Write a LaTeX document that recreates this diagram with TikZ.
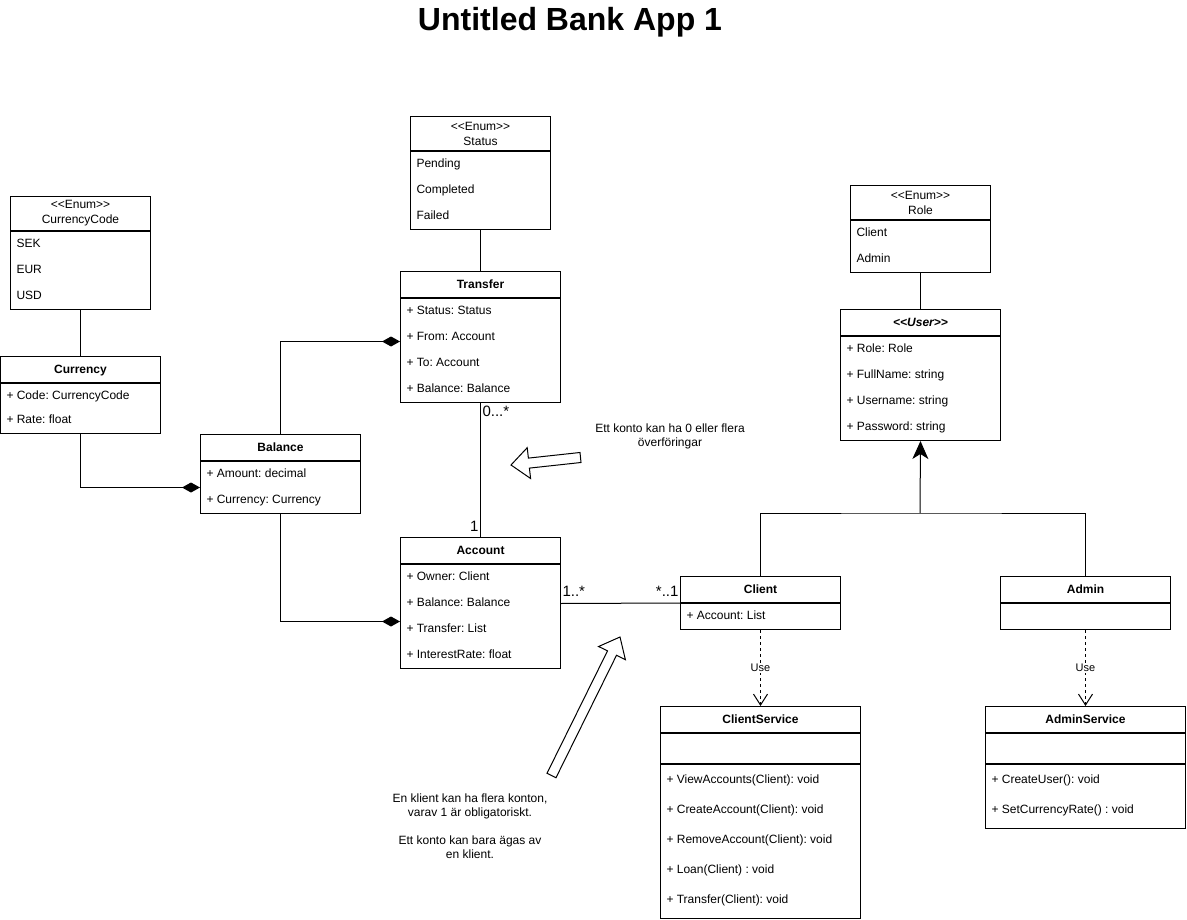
\documentclass[tikz,border=0pt]{standalone}
\usepackage{fontspec}
\setmainfont{Liberation Sans}[Ligatures=TeXOff]
\usetikzlibrary{arrows.meta}
\frenchspacing

\newcommand{\txt}{\fontsize{12}{14}\selectfont}

\begin{document}
\begin{tikzpicture}[x=1pt, y=-1pt, line width=1pt,
	head/.style={draw, anchor=north west, inner sep=0pt, text height=8.6pt, text depth=0pt, font=\txt\bfseries},
	enumhead/.style={draw, anchor=north west, inner sep=0pt, align=center, font=\fontsize{12}{15}\selectfont},
	body/.style={draw, anchor=north west, inner sep=0pt},
	item/.style={anchor=west, inner sep=0pt, font=\txt, text height=8.6pt, text depth=0pt},
	comp/.style={-{Diamond[length=18pt,width=10pt]}},
	inherit/.style={-{Stealth[length=18pt,width=16pt,inset=5pt]}},
	use/.style={dash pattern=on 3pt off 3pt, -{Straight Barb[length=11pt,width=14pt]}},
	uselabel/.style={fill=white, inner sep=1pt, font=\fontsize{11}{13}\selectfont},
	mult/.style={inner sep=0pt, font=\fontsize{15}{18}\selectfont},
	note/.style={inner sep=0pt, align=center, font=\txt}]

	\useasboundingbox (0,0) rectangle (1187,920);

	% title
	\node[font=\bfseries\fontsize{32}{38}\selectfont, anchor=base] (title) at (570,31) {Untitled Bank App 1};

	% enums
	\node[enumhead, minimum width=140, minimum height=34] (currencycode) at (10,196) {<<Enum>>\\CurrencyCode};
	\node[body, minimum width=140, minimum height=78] (currencycodeb) at (currencycode.south west) {};
	\foreach \t [count=\i] in {SEK, EUR, USD}
		\node[item] (currencycode-\i) at (16,217+26*\i) {\t};

	\node[enumhead, minimum width=140, minimum height=34] (status) at (410,116) {<<Enum>>\\Status};
	\node[body, minimum width=140, minimum height=78] (statusb) at (status.south west) {};
	\foreach \t [count=\i] in {Pending, Completed, Failed}
		\node[item] (status-\i) at (416,137+26*\i) {\t};

	\node[enumhead, minimum width=140, minimum height=34] (role) at (850,185) {<<Enum>>\\Role};
	\node[body, minimum width=140, minimum height=52] (roleb) at (role.south west) {};
	\foreach \t [count=\i] in {Client, Admin}
		\node[item] (role-\i) at (856,206+26*\i) {\t};

	% classes
	\node[head, minimum width=160, minimum height=26] (currency) at (0,356) {Currency};
	\node[body, minimum width=160, minimum height=50] (currencyb) at (currency.south west) {};
	\node[item] (currency-1) at (6,395) {+ Code: CurrencyCode};
	\node[item] (currency-2) at (6,419) {+ Rate: float};

	\node[head, minimum width=160, minimum height=26] (balance) at (200,434) {Balance};
	\node[body, minimum width=160, minimum height=52] (balanceb) at (balance.south west) {};
	\foreach \t [count=\i] in {{+ Amount: decimal}, {+ Currency: Currency}}
		\node[item] (balance-\i) at (206,447+26*\i) {\t};

	\node[head, minimum width=160, minimum height=26] (transfer) at (400,271) {Transfer};
	\node[body, minimum width=160, minimum height=104] (transferb) at (transfer.south west) {};
	\foreach \t [count=\i] in {{+ Status: Status}, {+ From: Account}, {+ To: Account}, {+ Balance: Balance}}
		\node[item] (transfer-\i) at (406,284+26*\i) {\t};

	\node[head, minimum width=160, minimum height=26] (account) at (400,537) {Account};
	\node[body, minimum width=160, minimum height=104] (accountb) at (account.south west) {};
	\foreach \t [count=\i] in {{+ Owner: Client}, {+ Balance: Balance}, {+ Transfer: List}, {+ InterestRate: float}}
		\node[item] (account-\i) at (406,550+26*\i) {\t};

	\node[head, minimum width=160, minimum height=26, font=\txt\bfseries\itshape] (user) at (840,309) {<<User>>};
	\node[body, minimum width=160, minimum height=104] (userb) at (user.south west) {};
	\foreach \t [count=\i] in {{+ Role: Role}, {+ FullName: string}, {+ Username: string}, {+ Password: string}}
		\node[item] (user-\i) at (846,322+26*\i) {\t};

	\node[head, minimum width=160, minimum height=26] (client) at (680,576) {Client};
	\node[body, minimum width=160, minimum height=26] (clientb) at (client.south west) {};
	\node[item] (client-1) at (686,615) {+ Account: List};

	\node[head, minimum width=170, minimum height=26] (admin) at (1000,576) {Admin};
	\node[body, minimum width=170, minimum height=26] (adminb) at (admin.south west) {};

	% services
	\node[head, minimum width=200, minimum height=26] (clientservice) at (660,706) {ClientService};
	\node[body, minimum width=200, minimum height=30] (clientserviceb) at (clientservice.south west) {};
	\node[body, minimum width=200, minimum height=154] (clientservicem) at (clientserviceb.south west) {};
	\foreach \t [count=\i] in {{+ ViewAccounts(Client): void}, {+ CreateAccount(Client): void}, {+ RemoveAccount(Client): void}, {+ Loan(Client) : void}, {+ Transfer(Client): void}}
		\node[item] (clientservice-\i) at (666,749+30*\i) {\t};

	\node[head, minimum width=200, minimum height=26] (adminservice) at (985,706) {AdminService};
	\node[body, minimum width=200, minimum height=30] (adminserviceb) at (adminservice.south west) {};
	\node[body, minimum width=200, minimum height=64] (adminservicem) at (adminserviceb.south west) {};
	\node[item] (adminservice-1) at (991,779) {+ CreateUser(): void};
	\node[item] (adminservice-2) at (991,809) {+ SetCurrencyRate() : void};

	% connectors
	\draw (currencycodeb.south) -- (currency.north);
	\draw (statusb.south) -- (transfer.north);
	\draw (roleb.south) -- (user.north);
	\draw[comp] (currencyb.south) |- (balanceb.west);
	\draw[comp] (balance.north) |- ([yshift=9pt]transferb.west);
	\draw[comp] (balanceb.south) |- ([yshift=-5pt]accountb.west);
	\draw (transferb.south) -- (account.north);
	\draw ([yshift=13pt]accountb.east) -- (clientb.north west);

	\coordinate (join) at (920,513);
	\draw (client.north) |- (join) -| (admin.north);
	\draw[inherit] (join) -- (userb.south);

	\draw[use] (clientb.south) -- node[uselabel] (use-1) {Use} (clientservice.north);
	\draw[use] (adminb.south) -- node[uselabel] (use-2) {Use} (adminservice.north);

	% multiplicities
	\node[mult, anchor=west] (m-transfer) at (482,411) {0...*};
	\node[mult, anchor=east] (m-account) at (479,526) {1};
	\node[mult, anchor=west] (m-accounts) at (562,591) {1..*};
	\node[mult, anchor=east] (m-client) at (679,591) {*..1};

	% notes
	\node[note] (note-transfer) at (670,436) {Ett konto kan ha 0 eller flera\\överföringar};
	\node[note] (note-client) at (470,826) {En klient kan ha flera konton,\\varav 1 är obligatoriskt.\\[14pt]Ett konto kan bara ägas av\\en klient.};

	\draw (580.0,452.5) -- (528.4,458.1) -- (527.2,447.7) -- (511,465) -- (530.6,478.5) -- (529.4,468.1) -- (581.0,462.5) -- cycle;
	\draw (547.0,773.3) -- (607.5,650.9) -- (598.6,646.5) -- (620,637) -- (625.4,659.7) -- (616.5,655.3) -- (556.0,777.7) -- cycle;
\end{tikzpicture}
\end{document}
